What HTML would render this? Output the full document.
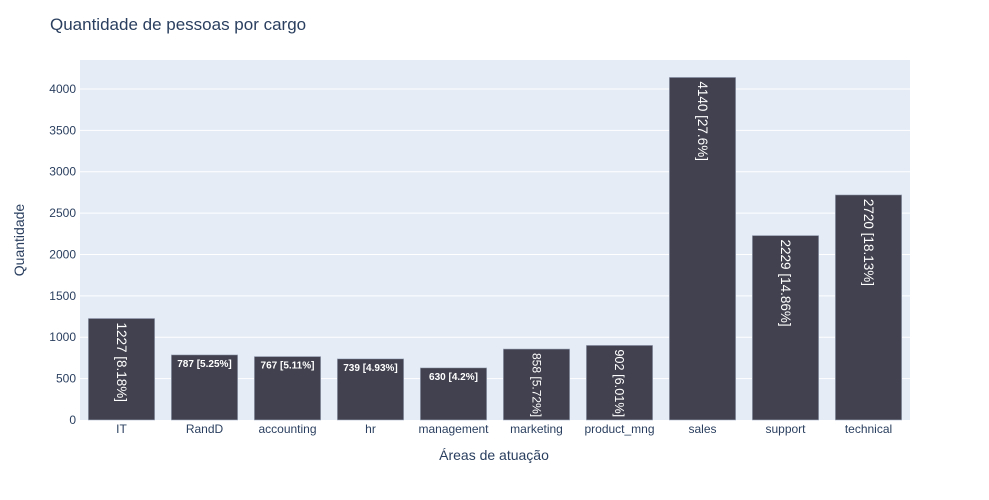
<!DOCTYPE html>
<html><head><meta charset="utf-8"><style>
body{margin:0;background:#fff}
svg{font-family:"Liberation Sans",Arial,sans-serif;display:block}
</style></head><body>
<svg id="chart" width="989" height="500">
<rect x="0" y="0" width="989" height="500" fill="#fff"/>
<text x="50" y="30" font-size="17" fill="#2a3f5f">Quantidade de pessoas por cargo</text>
<rect x="80" y="60" width="830" height="360" fill="#e5ecf6"/>
<g id="grid"></g><g id="bars"></g><g id="xt"></g>
<text x="494" y="460" font-size="14" fill="#2a3f5f" text-anchor="middle">Áreas de atuação</text>
<text transform="translate(24,240) rotate(-90)" font-size="14" fill="#2a3f5f" text-anchor="middle">Quantidade</text>
</svg>
<script>
const categories=["IT","RandD","accounting","hr","management","marketing","product_mng","sales","support","technical"];
const counts=[1227,787,767,739,630,858,902,4140,2229,2720];
const percents=["8.18%","5.25%","5.11%","4.93%","4.2%","5.72%","6.01%","27.6%","14.86%","18.13%"];
const yTicks=[0,500,1000,1500,2000,2500,3000,3500,4000];
const NS="http://www.w3.org/2000/svg";
const X0=80,W=830,Y0=420,H=360,YMAX=4350;
const y=v=>Y0-v/YMAX*H;
const band=W/categories.length;
const xc=i=>X0+band*(i+0.5);
function mk(t,a,p){const e=document.createElementNS(NS,t);for(const k in a)e.setAttribute(k,a[k]);p.appendChild(e);return e;}
const grid=document.getElementById('grid'),bars=document.getElementById('bars'),xt=document.getElementById('xt');
yTicks.forEach(v=>{
  if(v>0){const l=mk('line',{x1:X0,x2:X0+W,y1:y(v),y2:y(v),stroke:'#fff','stroke-width':1},grid);
  
  }
  const t=mk('text',{x:X0-4,y:y(v)+4,'font-size':12,fill:'#2a3f5f','text-anchor':'end'},grid);
  t.textContent=v;
  
  
});
const bw=band*0.8;
categories.forEach((c,i)=>{
  const top=y(counts[i]);
  const r=mk('rect',{x:xc(i)-bw/2,y:top,width:bw,height:Y0-top,fill:'#41414f',stroke:'#a9b3c6','stroke-width':0.6},bars);
  
  
  const label=counts[i]+" ["+percents[i]+"]";
  const hb=Y0-top;
  let t;
  if(hb>68){
    const fs=Math.min(13.5,(hb-6)/5.4);
    t=mk('text',{transform:`translate(${xc(i)-fs*0.35},${top+4}) rotate(90)`,'font-size':fs,fill:'#fff'},bars);
  }else{
    t=mk('text',{x:xc(i),y:top+12,'font-size':10,fill:'#fff','text-anchor':'middle','font-weight':'bold'},bars);
  }
  t.textContent=label;
  
  
  const xl=mk('text',{x:xc(i),y:Y0+13,'font-size':12,fill:'#2a3f5f','text-anchor':'middle'},xt);
  xl.textContent=c;
  
  
});
</script>
</body></html>
